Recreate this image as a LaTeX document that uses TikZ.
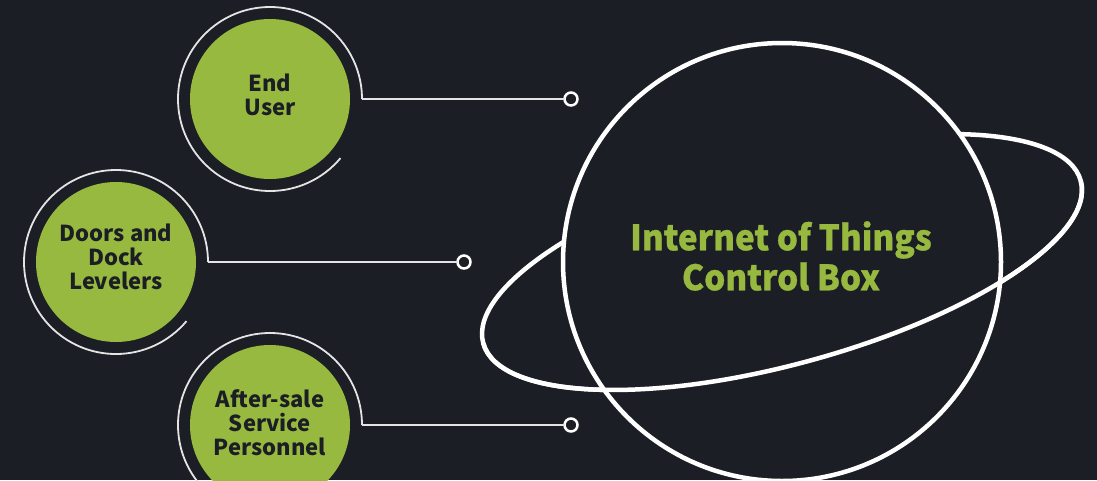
\documentclass[tikz,border=0pt]{standalone}
\usepackage{fontspec}
\newfontfamily\noto{Noto Sans CJK SC}
\newfontfamily\notonarrow{Noto Sans CJK SC}[FakeStretch=0.95, FakeBold=0.8]
\definecolor{bg}{HTML}{1C1E25}
\definecolor{leaf}{HTML}{98B93F}
\definecolor{ringc}{HTML}{E4E4E4}
\begin{document}
\begin{tikzpicture}[x=1pt,y=-1pt,
  greenball/.style={circle, fill=leaf, minimum size=160pt, inner sep=0pt, outer sep=0pt},
  balltext/.style={align=center, text=bg, inner sep=0pt, font=\noto\bfseries\fontsize{22}{24}\selectfont},
  halo/.style={circle, minimum size=184pt, inner sep=0pt, outer sep=0pt},
  haloarc/.style={draw=ringc, line width=1.8pt},
  link/.style={draw=ringc, line width=1.8pt},
  dotend/.style={circle, draw=white, line width=2.5pt, minimum size=13pt, inner sep=0pt, outer sep=0pt},
  orbit/.style={draw=white, line width=4.5pt},
  planetstyle/.style={circle, fill=bg, draw=white, line width=4.5pt, minimum size=438pt, inner sep=0pt, outer sep=0pt},
  titlestyle/.style={align=center, text=leaf, font=\notonarrow\bfseries\fontsize{35}{40}\selectfont}
]
\fill[bg] (0,0) rectangle (1097,480);
\useasboundingbox (0,0) rectangle (1097,480);

% satellites
\node[greenball] (u1) at (270,99) {};
\node[balltext] (t1) at (270,95) {End\\User};
\node[halo] (h1) at (270,99) {};
\draw[haloarc] (h1.east) arc[start angle=0, end angle=320, radius=92pt];
\node[dotend] (d1) at (571,99) {};
\draw[link] (h1.east) -- (d1.west);

\node[greenball] (u2) at (116,262) {};
\node[balltext] (t2) at (116,257) {Doors and\\Dock\\Levelers};
\node[halo] (h2) at (116,262) {};
\draw[haloarc] (h2.east) arc[start angle=0, end angle=320, radius=92pt];
\node[dotend] (d2) at (464,262) {};
\draw[link] (h2.east) -- (d2.west);

\node[greenball] (u3) at (270,425) {};
\node[balltext] (t3) at (270,423) {After-sale\\Service\\Personnel};
\node[halo] (h3) at (270,425) {};
\draw[haloarc] (h3.east) arc[start angle=0, end angle=320, radius=92pt];
\node[dotend] (d3) at (571,425) {};
\draw[link] (h3.east) -- (d3.west);

% planet with ring
\begin{scope}[shift={(782,262)}, rotate=15.2]
  \draw[orbit] (0pt,0pt) ellipse[x radius=309.6pt, y radius=102.5pt];
\end{scope}
\node[planetstyle] (planet) at (782,262) {};
\begin{scope}[shift={(782,262)}, rotate=15.2]
  \draw[orbit] (-309.6pt,0pt) arc[start angle=180, end angle=360, x radius=309.6pt, y radius=102.5pt];
\end{scope}
\node[titlestyle] (title) at (781,256) {Internet of Things\\Control Box};
\end{tikzpicture}
\end{document}
